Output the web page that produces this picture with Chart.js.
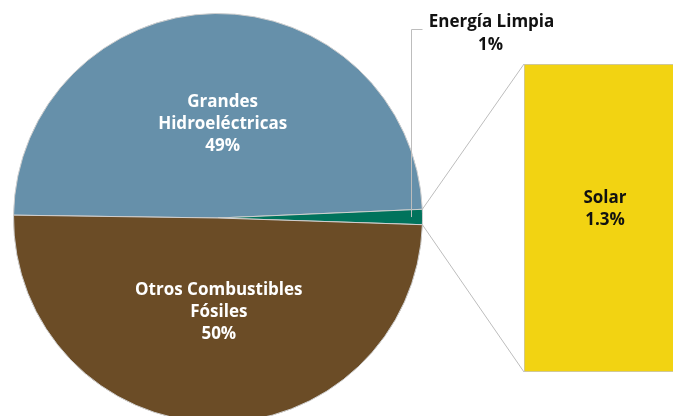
<!DOCTYPE html>
<html lang="es">
<head>
    <meta charset="UTF-8">
    <title>Generación por fuente</title>
    <style>
        body {
            margin: 0;
            width: 673px;
            height: 416px;
            overflow: hidden;
            background: #fff;
            position: relative;
        }
        #pieBox {
            position: absolute;
            left: 0;
            top: 0;
            width: 673px;
            height: 436px;
        }
        #barBox {
            position: absolute;
            left: 524px;
            top: 64px;
            width: 162px;
            height: 308px;
        }
    </style>
</head>
<body>
    <div id="pieBox"><canvas id="pieChart"></canvas></div>
    <div id="barBox"><canvas id="barChart"></canvas></div>

    <script src="https://cdn.jsdelivr.net/npm/chart.js"></script>
<script>
    // pie data
    const pieLabels = [['Grandes', 'Hidroeléctricas', '49%'], ['Energía Limpia', '1%'], ['Otros Combustibles', 'Fósiles', '50%']];
    const pieValues = [49.1, 1.2, 49.7];
    const pieColors = ['#6690aa', '#00735c', '#6b4c26'];

    // bar (breakdown of the small slice)
    const barLabels = ['Solar'];
    const barValues = [1.3];
    const barText = ['Solar', '1.3%'];

    const labelFont = '700 17px "Open Sans", Roboto, sans-serif';
    const lineGray = '#bdbdbd';

    // solar bar
    const barChart = new Chart(document.getElementById('barChart'), {
        type: 'bar',
        data: {
            labels: barLabels,
            datasets: [{
                data: barValues,
                backgroundColor: '#f2d312',
                borderColor: '#c4c4c4',
                borderWidth: 1,
                borderSkipped: false,
                barPercentage: 1,
                categoryPercentage: 1
            }]
        },
        options: {
            responsive: true,
            maintainAspectRatio: false,
            animation: false,
            layout: {padding: 0},
            plugins: {legend: {display: false}, tooltip: {enabled: false}},
            scales: {
                x: {display: false},
                y: {display: false, min: 0, max: 1.3}
            }
        },
        plugins: [{
            id: 'barText',
            afterDraw(chart) {
                const bar = chart.getDatasetMeta(0).data[0];
                const ctx = chart.ctx;
                const cy = (bar.y + bar.base) / 2 - 10;
                ctx.save();
                ctx.fillStyle = '#111';
                ctx.font = labelFont;
                ctx.textAlign = 'center';
                ctx.textBaseline = 'middle';
                ctx.fillText(barText[0], bar.x, cy - 10);
                ctx.fillText(barText[1], bar.x, cy + 12);
                ctx.restore();
            }
        }]
    });

    // labels inside the pie + connectors to the bar
    const pieExtras = {
        id: 'pieExtras',
        afterDraw(chart) {
            const ctx = chart.ctx;
            const arcs = chart.getDatasetMeta(0).data;
            ctx.save();
            ctx.font = labelFont;
            ctx.textAlign = 'center';
            ctx.textBaseline = 'middle';

            // big slices: white text
            [0, 2].forEach(i => {
                const a = arcs[i];
                const mid = (a.startAngle + a.endAngle) / 2;
                const rr = a.outerRadius * 0.46;
                const x = a.x + rr * Math.cos(mid) + (i === 0 ? 6 : 3);
                const y = a.y + rr * Math.sin(mid);
                const lines = pieLabels[i];
                ctx.fillStyle = '#fff';
                lines.forEach((t, k) => {
                    ctx.fillText(t, x, y + (k - (lines.length - 1) / 2) * 22);
                });
            });

            // connectors from the small slice to the bar
            const g = arcs[1];
            const bar = barChart.getDatasetMeta(0).data[0];
            const box = document.getElementById('barBox');
            const bx = box.offsetLeft + bar.x - bar.width / 2;
            const bTop = box.offsetTop + bar.y;
            const bBot = box.offsetTop + bar.base;
            ctx.strokeStyle = lineGray;
            ctx.lineWidth = 1;
            ctx.beginPath();
            ctx.moveTo(g.x + g.outerRadius * Math.cos(g.startAngle), g.y + g.outerRadius * Math.sin(g.startAngle));
            ctx.lineTo(bx, bTop);
            ctx.moveTo(g.x + g.outerRadius * Math.cos(g.endAngle), g.y + g.outerRadius * Math.sin(g.endAngle));
            ctx.lineTo(bx, bBot);
            ctx.stroke();

            // leader line for the small slice label
            const gm = (g.startAngle + g.endAngle) / 2;
            const lx = Math.round(g.x + (g.outerRadius - 11) * Math.cos(gm)) + 0.5;
            const ly = g.y + (g.outerRadius - 11) * Math.sin(gm);
            ctx.beginPath();
            ctx.moveTo(lx, ly);
            ctx.lineTo(lx, 29.5);
            ctx.lineTo(lx + 11, 29.5);
            ctx.stroke();

            ctx.fillStyle = '#111';
            ctx.fillText(pieLabels[1][0], lx + 80, 22);
            ctx.fillText(pieLabels[1][1], lx + 79, 45);
            ctx.restore();
        }
    };

    new Chart(document.getElementById('pieChart'), {
        type: 'pie',
        data: {
            labels: pieLabels.map(l => l.join(' ')),
            datasets: [{
                data: pieValues,
                backgroundColor: pieColors,
                borderColor: '#cfcfcf',
                borderWidth: 1
            }]
        },
        options: {
            responsive: true,
            maintainAspectRatio: false,
            animation: false,
            rotation: -89.2,
            layout: {padding: {left: 13, top: 13, right: 250, bottom: 13}},
            plugins: {legend: {display: false}, tooltip: {enabled: false}}
        },
        plugins: [pieExtras]
    });
</script>
</body>
</html>
